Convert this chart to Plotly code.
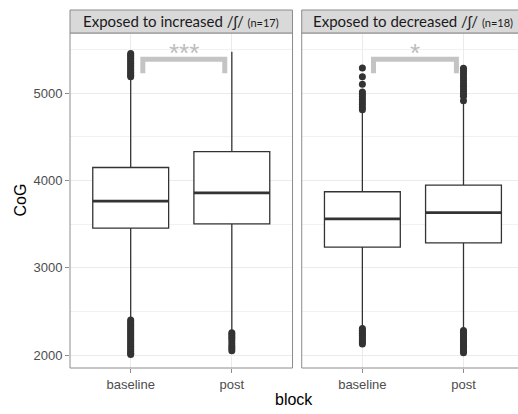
import plotly.graph_objects as go

# ---------------- data ----------------
categories = ["baseline", "post"]
panels = ["Exposed to increased /ʃ/", "Exposed to decreased /ʃ/"]
panel_n = ["(n=17)", "(n=18)"]

# box statistics per panel: [baseline, post]
inc_q1 = [3455, 3504]
inc_median = [3764, 3859]
inc_q3 = [4149, 4332]
inc_lower = [2420, 2270]
inc_upper = [5180, 5476]

dec_q1 = [3237, 3286]
dec_median = [3561, 3633]
dec_q3 = [3871, 3947]
dec_lower = [2325, 2300]
dec_upper = [4790, 4890]

# outliers
inc_base_out = [5190, 5205, 5220, 5240, 5260, 5280, 5300, 5320, 5340, 5360, 5380, 5400, 5420, 5440, 5455,
                2400, 2380, 2360, 2340, 2320, 2300, 2280, 2260, 2240, 2220, 2200, 2180, 2160, 2140,
                2120, 2100, 2080, 2060, 2040, 2020, 2005]
inc_post_out = [2255, 2235, 2210, 2190, 2160, 2130, 2100, 2075, 2050]
dec_base_out = [5290, 5190, 5103, 5015, 4990, 4960, 4930, 4900, 4870, 4840, 4812,
                2305, 2285, 2265, 2245, 2225, 2205, 2185, 2165, 2145, 2125]
dec_post_out = [5286, 5260, 5230, 5200, 5170, 5140, 5110, 5080, 5050, 5020, 4990, 4965, 4915,
                2280, 2260, 2240, 2220, 2200, 2180, 2160, 2140, 2120, 2100, 2080, 2060, 2040, 2025]

sig_labels = ["***", "*"]

# ---------------- style ----------------
DARK = "#333333"
BORDER = "#8c8c8c"
GRID = "#ebebeb"
BOX_W = 0.75
YR = [1851, 5691]
PANEL_TOP = 0.9358

fig = go.Figure()

def add_panel(xa, ya, q1, med, q3, lo, hi, outs):
    xs = [1, 2]
    for i in range(2):
        fig.add_trace(go.Box(
            x=[xs[i]], q1=[q1[i]], median=[med[i]], q3=[q3[i]],
            lowerfence=[lo[i]], upperfence=[hi[i]],
            width=BOX_W, whiskerwidth=0, boxpoints=False,
            fillcolor="white", line=dict(color=DARK, width=1.3),
            xaxis=xa, yaxis=ya, showlegend=False, hoverinfo="skip"))
        fig.add_trace(go.Scatter(
            x=[xs[i] - BOX_W / 2, xs[i] + BOX_W / 2], y=[med[i], med[i]],
            mode="lines", line=dict(color=DARK, width=2.8),
            xaxis=xa, yaxis=ya, showlegend=False, hoverinfo="skip"))
        fig.add_trace(go.Scatter(
            x=[xs[i]] * len(outs[i]), y=outs[i], mode="markers",
            marker=dict(color=DARK, size=7),
            xaxis=xa, yaxis=ya, showlegend=False, hoverinfo="skip"))

add_panel("x", "y", inc_q1, inc_median, inc_q3, inc_lower, inc_upper,
          [inc_base_out, inc_post_out])
add_panel("x2", "y2", dec_q1, dec_median, dec_q3, dec_lower, dec_upper,
          [dec_base_out, dec_post_out])

# significance brackets
brackets = [("x", "y", 1.12, 1.93, sig_labels[0]), ("x2", "y2", 1.11, 1.93, sig_labels[1])]
for xa, ya, bx0, bx1, lab in brackets:
    fig.add_trace(go.Scatter(
        x=[bx0, bx0, bx1, bx1], y=[5230, 5390, 5390, 5230], mode="lines",
        line=dict(color="#c4c4c4", width=5), xaxis=xa, yaxis=ya,
        showlegend=False, hoverinfo="skip"))
    fig.add_annotation(x=(bx0 + bx1) / 2, y=5460, xref=xa, yref=ya, text=lab,
                       showarrow=False, yanchor="middle",
                       font=dict(family="Liberation Sans", size=26, color="#bdbdbd"))

axis_common = dict(showgrid=True, gridcolor=GRID, gridwidth=1, zeroline=False, automargin=False,
                   showline=False, ticks="outside", ticklen=4, tickcolor=BORDER,
                   tickfont=dict(family="Liberation Sans", size=13, color="#4d4d4d"),
                   tickvals=[1, 2], ticktext=categories)

fig.update_layout(
    width=518, height=414,
    margin=dict(l=70, r=0, t=10, b=46, autoexpand=False),
    plot_bgcolor="white", paper_bgcolor="white",
    xaxis=dict(domain=[0, 0.4967], range=[0.4, 2.6], anchor="y", **axis_common),
    xaxis2=dict(domain=[0.5172, 1], range=[0.4, 2.539], anchor="y2", **axis_common),
    yaxis=dict(domain=[0, PANEL_TOP], range=YR, anchor="x", dtick=1000, tick0=0, automargin=False,
               showgrid=True, gridcolor=GRID, gridwidth=1, zeroline=False,
               ticks="outside", ticklen=4, tickcolor=BORDER,
               tickfont=dict(family="Liberation Sans", size=13, color="#4d4d4d"),
               minor=dict(dtick=500, tick0=0, showgrid=True, gridcolor="#f1f1f1", gridwidth=0.7)),
    yaxis2=dict(domain=[0, PANEL_TOP], range=YR, anchor="x2", matches="y", dtick=1000, tick0=0,
                automargin=False, showgrid=True, gridcolor=GRID, gridwidth=1, zeroline=False,
                showticklabels=False, ticks="",
                minor=dict(dtick=500, tick0=0, showgrid=True, gridcolor="#f1f1f1", gridwidth=0.7)),
)

# panel borders and strips
for xd, yd in [("x domain", "y domain"), ("x2 domain", "y2 domain")]:
    x1 = 1 if xd == "x domain" else 1.05
    fig.add_shape(type="rect", xref=xd, yref=yd, x0=0, x1=x1, y0=0, y1=1,
                  line=dict(color=BORDER, width=1), fillcolor="rgba(0,0,0,0)", layer="above")
    fig.add_shape(type="rect", xref=xd, yref="paper", x0=0, x1=x1, y0=PANEL_TOP, y1=1,
                  line=dict(color=BORDER, width=1), fillcolor="#d9d9d9", layer="above")

for xa, pname, n in [("x", panels[0], panel_n[0]), ("x2", panels[1], panel_n[1])]:
    fig.add_annotation(x=1.5, xref=xa, y=(PANEL_TOP + 1) / 2, yref="paper", showarrow=False,
                       yanchor="middle",
                       text=pname + " <span style='font-size:11px'>" + n + "</span>",
                       font=dict(family="Lato", size=15, color="#1a1a1a"))

fig.add_annotation(x=0.5, xref="paper", y=0, yref="paper", yshift=-31, showarrow=False,
                   text="block", yanchor="middle",
                   font=dict(family="Liberation Sans", size=16, color="black"))
fig.add_annotation(x=0, xref="paper", xshift=-50, xanchor="center", y=0.5 * PANEL_TOP,
                   yref="paper", showarrow=False, text="CoG", textangle=-90,
                   font=dict(family="Liberation Sans", size=16, color="black"))

fig.write_html("out.html", config={"displayModeBar": False},
               post_script="document.body.style.margin='0';")
